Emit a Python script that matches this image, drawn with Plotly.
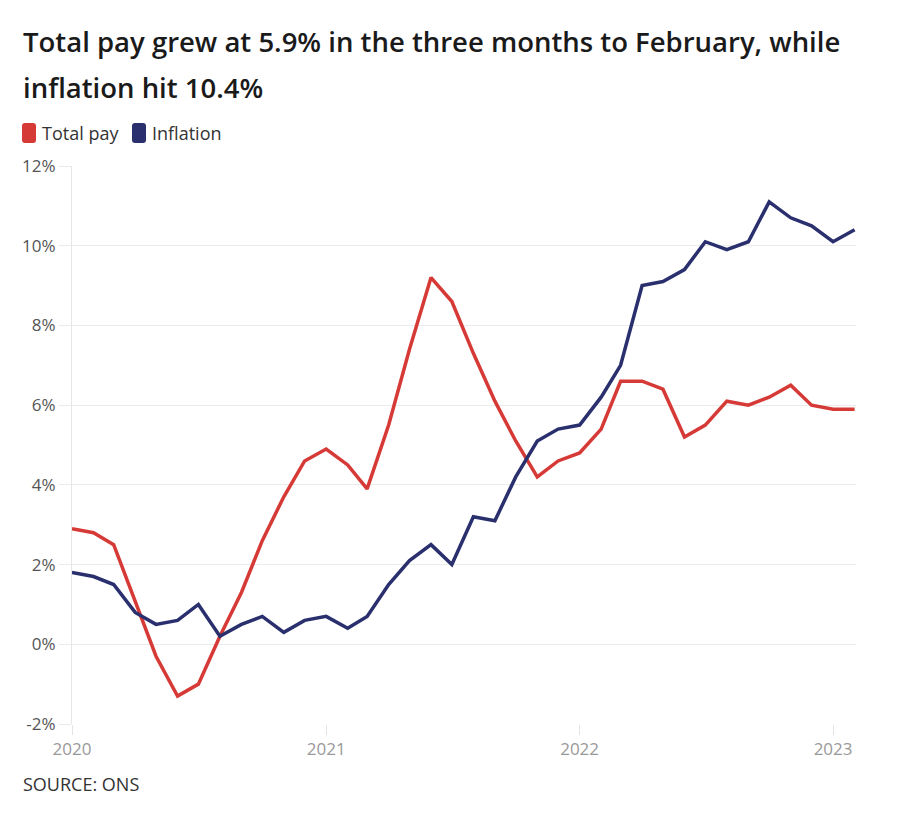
import plotly.graph_objects as go

months = [f"{y}-{m:02d}-01" for y in (2020, 2021, 2022) for m in range(1, 13)] + ["2023-01-01", "2023-02-01"]

total_pay = [2.9, 2.8, 2.5, 1.1, -0.3, -1.3, -1.0, 0.2, 1.3, 2.6, 3.7, 4.6,
             4.9, 4.5, 3.9, 5.5, 7.4, 9.2, 8.6, 7.3, 6.1, 5.1, 4.2, 4.6,
             4.8, 5.4, 6.6, 6.6, 6.4, 5.2, 5.5, 6.1, 6.0, 6.2, 6.5, 6.0,
             5.9, 5.9]
inflation = [1.8, 1.7, 1.5, 0.8, 0.5, 0.6, 1.0, 0.2, 0.5, 0.7, 0.3, 0.6,
             0.7, 0.4, 0.7, 1.5, 2.1, 2.5, 2.0, 3.2, 3.1, 4.2, 5.1, 5.4,
             5.5, 6.2, 7.0, 9.0, 9.1, 9.4, 10.1, 9.9, 10.1, 11.1, 10.7, 10.5,
             10.1, 10.4]

series_names = ["Total pay", "Inflation"]
colors = ["#d63a36", "#2a2f6e"]
year_ticks = ["2020-01-01", "2021-01-01", "2022-01-01", "2023-01-01"]
year_labels = ["2020", "2021", "2022", "2023"]
y_ticks = [-2, 0, 2, 4, 6, 8, 10, 12]
y_labels = ["-2%", "0%", "2%", "4%", "6%", "8%", "10%", "12%"]

OFF = 8  # default page body margin
W, H = 898 - OFF, 824 - OFF
L, R, T, B = 72 - OFF, 856 - OFF, 166 - OFF, 724 - OFF
FONT = "Open Sans"


def px(x):
    return (x - OFF - L) / (R - L)


def py(y):
    return (B - (y - OFF)) / (B - T)


fig = go.Figure()
for name, vals, col in zip(series_names, [total_pay, inflation], colors):
    fig.add_trace(go.Scatter(x=months, y=vals, mode="lines", name=name,
                             line=dict(color=col, width=3.5), showlegend=False))

title_font = dict(family=FONT, size=27.5, color="#1a1a1a", weight=600)
annotations = [
    dict(text="Total pay grew at 5.9% in the three months to February, while",
         x=px(21), y=py(42), xref="paper", yref="paper", xanchor="left", yanchor="middle",
         showarrow=False, font=title_font),
    dict(text="inflation hit 10.4%",
         x=px(21), y=py(88), xref="paper", yref="paper", xanchor="left", yanchor="middle",
         showarrow=False, font=title_font),
    dict(text="SOURCE: ONS",
         x=px(21), y=py(784), xref="paper", yref="paper", xanchor="left", yanchor="middle",
         showarrow=False, font=dict(family=FONT, size=18, color="#333333")),
]

shapes = []
legend_pos = [(22, 40), (132, 150)]
for (sx, tx), name, col in zip(legend_pos, series_names, colors):
    w, h, r = 14, 20, 3
    path = (f"M {r},{-h/2} L {w-r},{-h/2} Q {w},{-h/2} {w},{-h/2+r} L {w},{h/2-r} "
            f"Q {w},{h/2} {w-r},{h/2} L {r},{h/2} Q 0,{h/2} 0,{h/2-r} L 0,{-h/2+r} "
            f"Q 0,{-h/2} {r},{-h/2} Z")
    shapes.append(dict(type="path", xref="paper", yref="paper", xsizemode="pixel",
                       ysizemode="pixel", xanchor=px(sx), yanchor=py(133), path=path,
                       fillcolor=col, line=dict(width=0)))
    annotations.append(dict(text=name, x=px(tx), y=py(133), xref="paper", yref="paper",
                            xanchor="left", yanchor="middle", showarrow=False,
                            font=dict(family=FONT, size=18, color="#333333")))

fig.update_layout(
    width=W, height=H,
    margin=dict(l=L, r=W - R, t=T, b=H - B),
    paper_bgcolor="white", plot_bgcolor="white",
    font=dict(family=FONT),
    annotations=annotations, shapes=shapes,
    hovermode=False,
)
fig.update_xaxes(type="date", range=["2020-01-01", "2023-02-03"],
                 tickvals=year_ticks, ticktext=year_labels,
                 showgrid=False, zeroline=False, showline=False,
                 ticks="outside", ticklen=10, tickcolor="#e3e3e3",
                 tickfont=dict(family=FONT, size=17, color="#999999"))
fig.update_yaxes(range=[-2, 12], tickvals=y_ticks, ticktext=y_labels,
                 showgrid=True, gridcolor="#ebebeb", gridwidth=1,
                 zeroline=False, showline=True, linecolor="#e6e6e6",
                 ticks="outside", ticklen=12, tickcolor="#ebebeb",
                 tickfont=dict(family=FONT, size=17, color="#555555"))

fig.write_html("out.html")
